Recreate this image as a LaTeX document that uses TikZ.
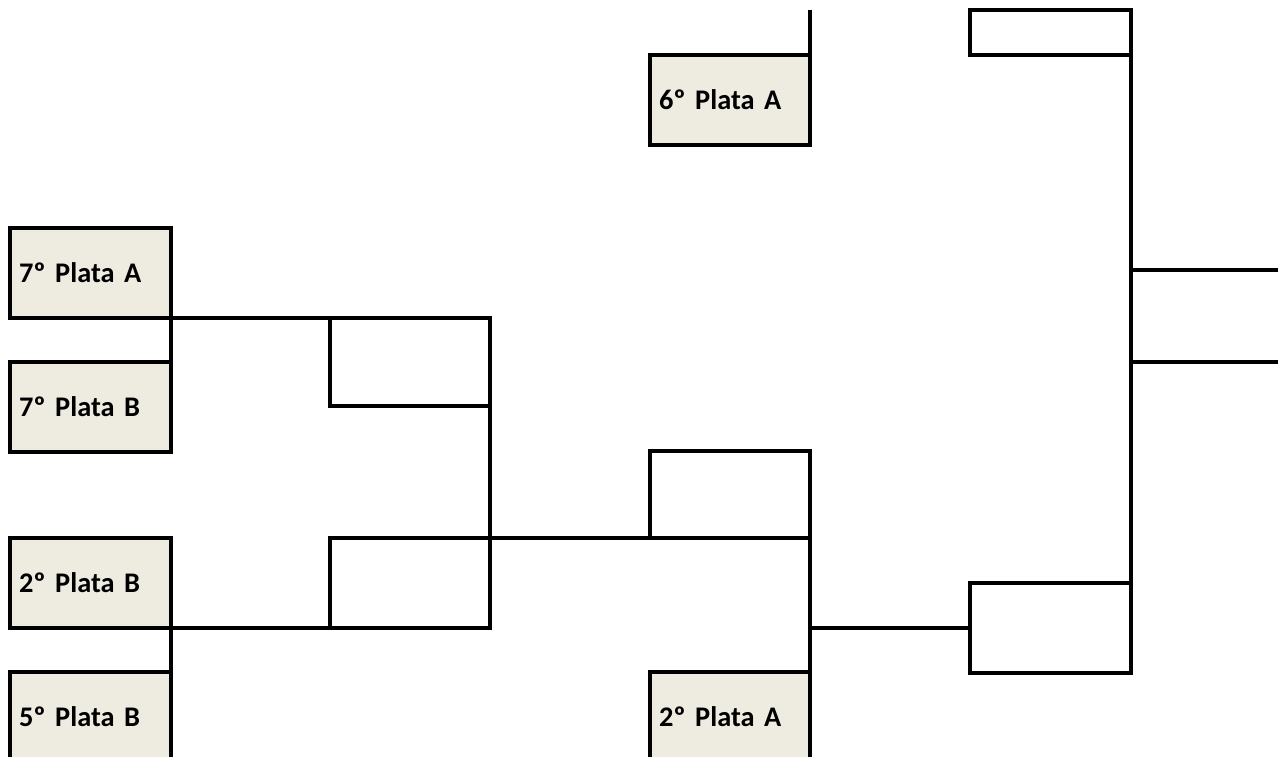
\documentclass[tikz,border=0pt]{standalone}
\usepackage{fontspec}
\setmainfont{Carlito}[WordSpace=0.7]
\definecolor{teamfill}{HTML}{EEECE1}
\begin{document}
\begin{tikzpicture}[x=0.5pt,y=-0.5pt,
  team/.style={draw=black, line width=1.6pt, fill=teamfill, anchor=north west, outer sep=0pt,
    minimum height=45pt, text width=71.5pt, inner xsep=4.5pt, inner ysep=0pt,
    font=\fontsize{14.2}{17}\selectfont\bfseries},
  slot/.style={draw=black, line width=1.6pt, anchor=north west, inner sep=0pt, outer sep=0pt},
  conn/.style={draw=black, line width=1.6pt}]
\useasboundingbox (0,0) rectangle (1278,756);
\clip (0,0) rectangle (1278,756);
% team boxes
\node[team] (p7a) at (10,228) {7º Plata A};
\node[team] (p7b) at (10,362) {7º Plata B};
\node[team] (p2b) at (10,538) {2º Plata B};
\node[team] (p5b) at (10,672) {5º Plata B};
\node[team, text width=71pt] (p6a) at (650,55) {6º Plata A};
\node[team, text width=71pt] (p2a) at (650,672) {2º Plata A};
% empty slots
\node[slot, minimum width=80pt, minimum height=44pt] (e1) at (330,318) {};
\node[slot, minimum width=80pt, minimum height=45pt] (e2) at (330,538) {};
\node[slot, minimum width=80pt, minimum height=43.5pt] (e3) at (650,451) {};
\node[slot, minimum width=80.5pt, minimum height=45pt] (e4) at (970,583) {};
\node[slot, minimum width=80.5pt, minimum height=22.5pt] (e5) at (970,10) {};
% free ends
\coordinate (top6) at (810,10);
\coordinate (out1) at (1278,270);
\coordinate (out2) at (1278,362);
% connectors
\draw[conn] (p7a.south east) -- (p7b.north east);
\draw[conn] (p7a.south east) -- (e1.north west);
\draw[conn] (e1.north east) -- (e2.south east);
\draw[conn] (p2b.south east) -- (e2.south west);
\draw[conn] (p2b.south east) -- (p5b.north east);
\draw[conn] (e2.north east) -- (e3.south west);
\draw[conn] (e3.north east) -- (p2a.north east);
\draw[conn] (e4.west -| p2a.east) -- (e4.west);
\draw[conn] (top6) -- (p6a.north east);
\draw[conn] (e5.north east) -- (e4.south east);
\draw[conn] (out1 -| e5.east) -- (out1);
\draw[conn] (out2 -| e5.east) -- (out2);
\end{tikzpicture}
\end{document}
